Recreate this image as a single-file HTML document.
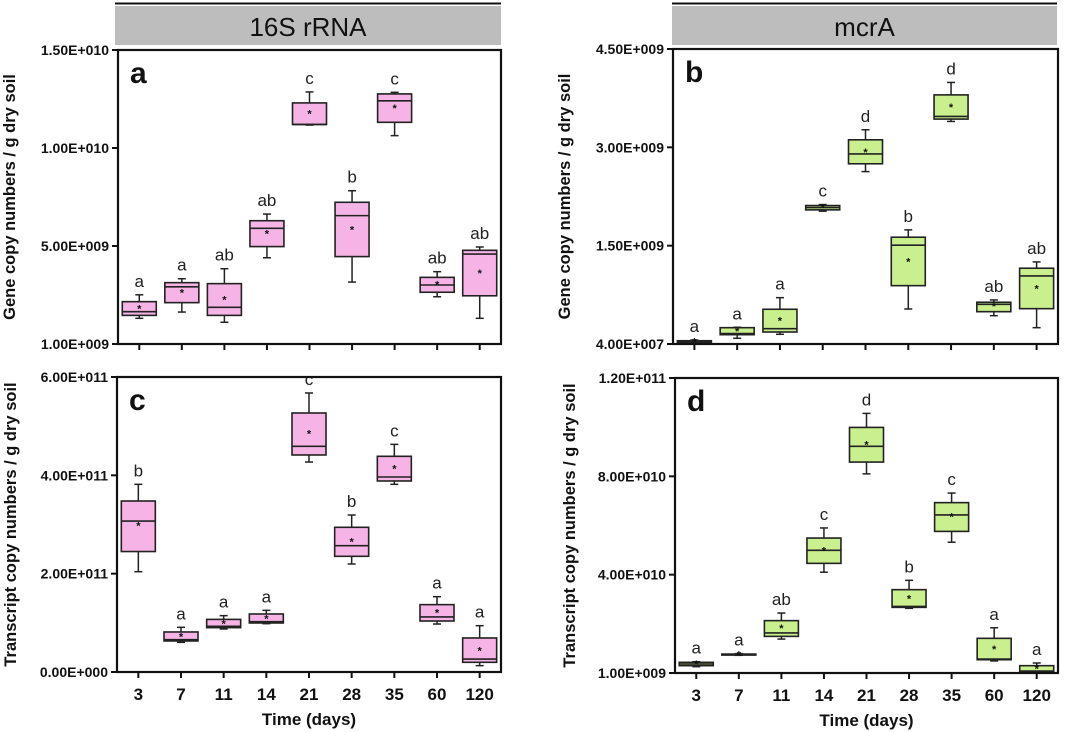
<!DOCTYPE html>
<html><head><meta charset="utf-8"><style>
body{margin:0;background:#fff;}
svg{display:block;font-family:"Liberation Sans",Arial,sans-serif;}
</style></head><body>
<svg id="chart" width="1080" height="732" viewBox="0 0 1080 732"></svg>
<script>
const categories = ["3","7","11","14","21","28","35","60","120"];
// [whiskerLow, Q1, median, Q3, whiskerHigh, mean]
const aStats = [[1.31e9,1.46e9,1.65e9,2.16e9,2.51e9,1.82e9],[1.63e9,2.11e9,2.92e9,3.13e9,3.33e9,2.62e9],[1.11e9,1.46e9,1.87e9,3.08e9,3.84e9,2.28e9],[4.40e9,4.97e9,5.90e9,6.29e9,6.63e9,5.63e9],[11.17e9,11.2e9,11.2e9,12.3e9,12.86e9,11.75e9],[3.16e9,4.46e9,6.55e9,7.23e9,7.82e9,5.85e9],[10.63e9,11.31e9,12.41e9,12.76e9,12.84e9,12.04e9],[2.41e9,2.64e9,3.01e9,3.40e9,3.69e9,3.04e9],[1.31e9,2.46e9,4.59e9,4.78e9,4.95e9,3.61e9]];
const aLetters = ["a","a","ab","ab","c","b","c","ab","ab"];
const aTicks = [0,5e9,1e10,1.5e10];
const aTickLabels = ["1.00E+009","5.00E+009","1.00E+010","1.50E+010"];
const bStats = [[0.02e9,0.026e9,0.035e9,0.05e9,0.061e9,0.041e9],[0.087e9,0.142e9,0.16e9,0.249e9,0.255e9,0.199e9],[0.148e9,0.183e9,0.234e9,0.53e9,0.707e9,0.362e9],[2.026e9,2.046e9,2.081e9,2.112e9,2.127e9,2.08e9],[2.63e9,2.749e9,2.90e9,3.115e9,3.268e9,2.927e9],[0.534e9,0.89e9,1.507e9,1.629e9,1.741e9,1.257e9],[3.395e9,3.431e9,3.471e9,3.80e9,3.99e9,3.614e9],[0.432e9,0.493e9,0.606e9,0.637e9,0.672e9,0.58e9],[0.249e9,0.539e9,1.038e9,1.156e9,1.252e9,0.844e9]];
const bLetters = ["a","a","a","c","d","b","d","ab","ab"];
const bTicks = [0,1.5e9,3e9,4.5e9];
const bTickLabels = ["4.00E+007","1.50E+009","3.00E+009","4.50E+009"];
const cStats = [[204e9,245e9,307e9,347.8e9,381.7e9,297.6e9],[60.3e9,63.1e9,65.8e9,81.4e9,90.9e9,72.5e9],[87.5e9,90.2e9,92.9e9,107e9,114.6e9,99e9],[98.3e9,99.7e9,102.4e9,118e9,125.4e9,109.2e9],[427e9,441.4e9,459e9,526.8e9,567.5e9,484.8e9],[219.7e9,235.3e9,257e9,294.3e9,319.3e9,265.8e9],[381.7e9,388.5e9,396.6e9,438.7e9,463e9,414.3e9],[97.6e9,103.7e9,111.9e9,137e9,153.2e9,121.4e9],[12.9e9,19.7e9,26.4e9,69.2e9,94.2e9,43.4e9]];
const cLetters = ["b","a","a","a","c","b","c","a","a"];
const cTicks = [0,2e11,4e11,6e11];
const cTickLabels = ["0.00E+000","2.00E+011","4.00E+011","6.00E+011"];
const dStats = [[2.58e9,2.98e9,3.66e9,4.34e9,4.6e9,3.66e9],[7.19e9,7.3e9,7.59e9,7.7e9,7.87e9,7.46e9],[13.8e9,14.9e9,16.3e9,21.3e9,24.4e9,18.3e9],[41e9,44.6e9,49.9e9,54.9e9,59e9,49.9e9],[81e9,85.8e9,92.2e9,99.9e9,105.6e9,92.9e9],[26.3e9,26.7e9,27.1e9,33.9e9,37.7e9,30.4e9],[53.2e9,57.6e9,64.3e9,69.3e9,73.2e9,63.7e9],[4.9e9,5.4e9,5.7e9,14.1e9,18.4e9,9.8e9],[0.27e9,0.54e9,0.81e9,2.98e9,4.07e9,1.9e9]];
const dLetters = ["a","a","ab","c","d","b","c","a","a"];
const dTicks = [0,4e10,8e10,1.2e11];
const dTickLabels = ["1.00E+009","4.00E+010","8.00E+010","1.20E+011"];

const NS="http://www.w3.org/2000/svg";
const svg=document.getElementById('chart');
function mk(tag,attrs,parent,text){const e=document.createElementNS(NS,tag);for(const k in attrs)e.setAttribute(k,attrs[k]);if(text!==undefined)e.textContent=text;(parent||svg).appendChild(e);return e;}

function header(x0,x1,label,name){
  const g=mk('g',{});
  
  
  mk('line',{x1:x0,x2:x1,y1:3.5,y2:3.5,stroke:'#111','stroke-width':2},g);
  mk('rect',{x:x0,y:6,width:x1-x0,height:39,fill:'#bdbdbd'},g);
  const t=mk('text',{x:(x0+x1)/2,y:36,'text-anchor':'middle','font-size':26,fill:'#111'},g,label);
  
  
}

function panel(p){
  const g=mk('g',{});
  
  
  const {L,R,T,B,ymax}=p;
  const y=v=>B-(v/ymax)*(B-T);
  const step=(R-L)/categories.length;
  const x=i=>L+step*(i+0.5);
  p.ticks.forEach((tv,i)=>{
    const yy=y(tv);
    mk('line',{x1:L-6,x2:L,y1:yy,y2:yy,stroke:'#111','stroke-width':2},g);
    const t=mk('text',{x:L-9,y:yy+5,'text-anchor':'end','font-size':14,'font-weight':'bold',fill:'#111'},g,p.tickLabels[i]);
    
    
  });
  categories.forEach((c,i)=>{
    mk('line',{x1:x(i),x2:x(i),y1:B,y2:B+6,stroke:'#111','stroke-width':2},g);
    if(p.xlabels){
      const t=mk('text',{x:x(i),y:B+28,'text-anchor':'middle','font-size':17,'font-weight':'bold',fill:'#111'},g,c);
      
      
    }
  });
  p.stats.forEach((s,i)=>{
    const bg=mk('g',{},g);
    
    
    const cx=x(i),w=34;
    mk('line',{x1:cx,x2:cx,y1:y(s[0]),y2:y(s[1]),stroke:'#222','stroke-width':1.5},bg);
    mk('line',{x1:cx,x2:cx,y1:y(s[3]),y2:y(s[4]),stroke:'#222','stroke-width':1.5},bg);
    mk('line',{x1:cx-4,x2:cx+4,y1:y(s[0]),y2:y(s[0]),stroke:'#222','stroke-width':1.5},bg);
    mk('line',{x1:cx-4,x2:cx+4,y1:y(s[4]),y2:y(s[4]),stroke:'#222','stroke-width':1.5},bg);
    mk('rect',{x:cx-w/2,y:y(s[3]),width:w,height:Math.max(1,y(s[1])-y(s[3])),fill:p.fill,stroke:'#222','stroke-width':1.6},bg);
    mk('line',{x1:cx-w/2,x2:cx+w/2,y1:y(s[2]),y2:y(s[2]),stroke:'#222','stroke-width':1.6},bg);
    const m=mk('text',{x:cx,y:y(s[5])+4,'text-anchor':'middle','font-size':11,'font-weight':'bold',fill:'#111'},bg,'*');
    
    
    const lt=mk('text',{x:cx,y:y(s[4])-8,'text-anchor':'middle','font-size':17,fill:'#222'},bg,p.letters[i]);
    
    
  });
  const fr=mk('rect',{x:L,y:T,width:R-L,height:B-T,fill:'none',stroke:'#111','stroke-width':2.2},g);
  
  
  const pl=mk('text',{x:L+12,y:T+33,'font-size':30,'font-weight':'bold',fill:'#111'},g,p.id);
  
  
  const yt=mk('text',{x:0,y:0,transform:`translate(${p.ylx},${(T+B)/2}) rotate(-90)`,'text-anchor':'middle','font-size':16.5,'font-weight':'bold',fill:'#111'},g,p.ytitle);
  
  
  if(p.xlabels){
    const xt=mk('text',{x:(L+R)/2,y:B+53,'text-anchor':'middle','font-size':17,'font-weight':'bold',fill:'#111'},g,'Time (days)');
    
    
  }
}

header(115,501,'16S rRNA','header-16s-rrna');
header(672,1057,'mcrA','header-mcra');
const PINK='#f6b4e6', GREEN='#c9ef8e';
panel({id:'a',L:118,R:501,T:50,B:344,ymax:1.5e10,ticks:aTicks,tickLabels:aTickLabels,stats:aStats,letters:aLetters,fill:PINK,ylx:15,ytitle:'Gene copy numbers / g dry soil',xlabels:false});
panel({id:'b',L:673,R:1058,T:49,B:344,ymax:4.5e9,ticks:bTicks,tickLabels:bTickLabels,stats:bStats,letters:bLetters,fill:GREEN,ylx:570,ytitle:'Gene copy numbers / g dry soil',xlabels:false});
panel({id:'c',L:117,R:501,T:377,B:672,ymax:6e11,ticks:cTicks,tickLabels:cTickLabels,stats:cStats,letters:cLetters,fill:PINK,ylx:16,ytitle:'Transcript copy numbers / g dry soil',xlabels:true});
panel({id:'d',L:675,R:1058,T:378,B:673,ymax:1.2e11,ticks:dTicks,tickLabels:dTickLabels,stats:dStats,letters:dLetters,fill:GREEN,ylx:575,ytitle:'Transcript copy numbers / g dry soil',xlabels:true});
</script>
</body></html>
